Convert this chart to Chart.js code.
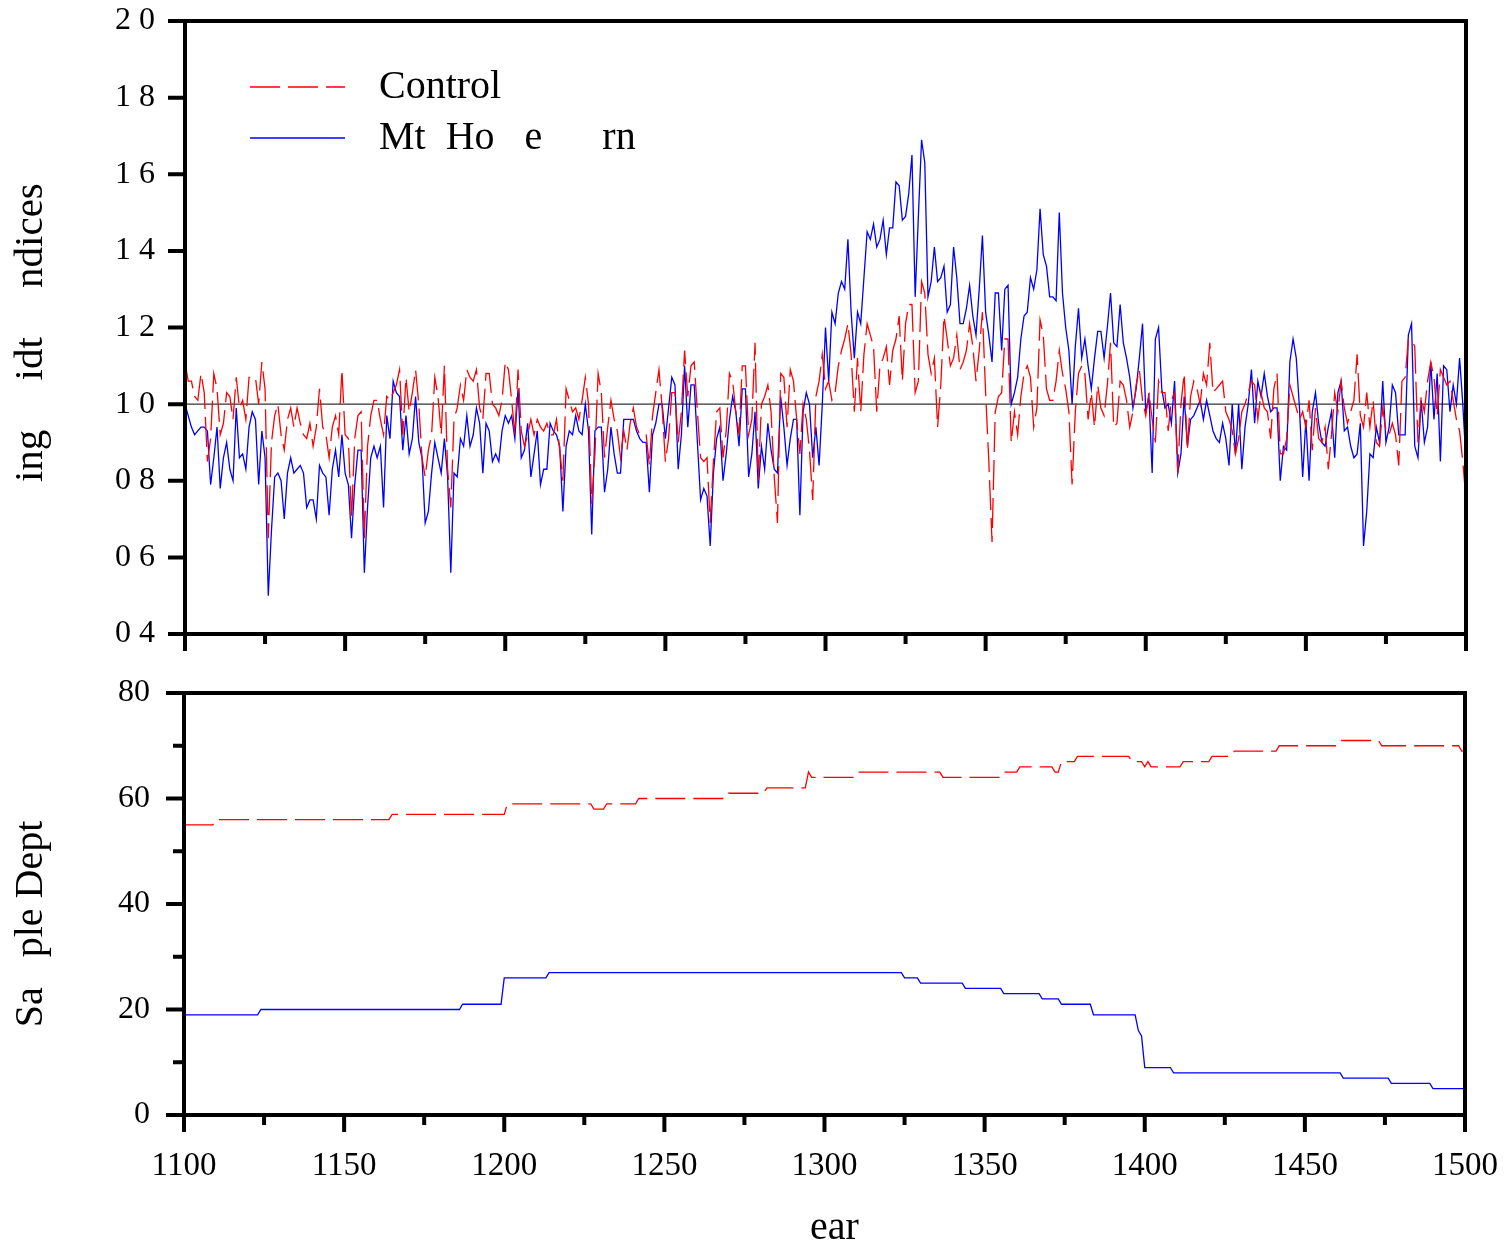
<!DOCTYPE html>
<html>
<head>
<meta charset="utf-8">
<script src="https://cdn.jsdelivr.net/npm/chart.js@4.4.1/dist/chart.umd.min.js"></script>
<style>
  html, body { margin: 0; padding: 0; background: #fff; }
  #wrap { position: relative; width: 1507px; height: 1248px; }
  #indexBox { position: absolute; left: 0; top: 0; width: 1507px; height: 660px; }
  #depthBox { position: absolute; left: 0; top: 660px; width: 1507px; height: 588px; }
</style>
</head>
<body>
<div id="wrap">
  <div id="indexBox"><canvas id="indexChart"></canvas></div>
  <div id="depthBox"><canvas id="depthChart"></canvas></div>
</div>
<script>
// Ring width indices (top) and sample depth (bottom), 1100-1500
const firstYear = 1100;
const lastYear = 1500;
const yearTicks = [1100, 1150, 1200, 1250, 1300, 1350, 1400, 1450, 1500];
const yearMinorTicks = [1125, 1175, 1225, 1275, 1325, 1375, 1425, 1475];
const indexTicks = [0.4, 0.6, 0.8, 1.0, 1.2, 1.4, 1.6, 1.8, 2.0];
const depthTicks = [0, 20, 40, 60, 80];
const depthMinorTicks = [10, 30, 50, 70];
const meanLevel = 1.0;

const seriesNames = ['Control', 'Mt  Ho   e      rn'];

// annual index values, one row per decade
const controlIndex = [
  1.11, 1.06, 1.06, 1.02, 1.01, 1.08, 1.03, 0.85, 0.91, 1.08,
  1.04, 0.92, 0.95, 1.03, 1.02, 0.96, 1.07, 0.99, 1.01, 0.96,
  1.07, 1.07, 1.07, 1.00, 1.11, 1.04, 0.65, 0.90, 0.97, 1.00,
  0.92, 0.88, 0.96, 0.99, 0.94, 0.99, 0.95, 0.92, 0.91, 0.95,
  0.89, 0.94, 1.04, 0.94, 0.92, 0.86, 0.94, 0.97, 0.92, 1.09,
  0.92, 0.91, 0.70, 0.91, 0.97, 0.98, 0.65, 0.89, 0.97, 1.01,
  1.01, 0.96, 0.92, 1.02, 1.01, 1.03, 1.05, 1.09, 0.92, 1.07,
  0.98, 1.03, 1.09, 1.00, 0.86, 0.81, 0.88, 0.92, 1.07, 1.02,
  0.92, 1.10, 0.83, 0.73, 0.96, 0.99, 1.05, 1.01, 1.09, 1.07,
  1.06, 1.09, 0.99, 0.96, 1.08, 1.08, 1.00, 0.99, 0.97, 1.01,
  1.11, 1.09, 1.01, 0.92, 1.09, 0.93, 0.89, 0.92, 0.96, 0.92,
  0.96, 0.94, 0.93, 0.95, 0.92, 0.92, 0.96, 0.88, 0.80, 1.04,
  1.01, 0.98, 0.99, 0.96, 1.01, 1.07, 1.00, 0.74, 0.87, 1.08,
  1.03, 0.86, 0.94, 1.01, 0.96, 0.93, 0.86, 0.93, 0.88, 0.95,
  0.99, 0.94, 0.92, 0.92, 0.92, 0.84, 0.97, 1.03, 1.09, 0.99,
  0.85, 0.91, 1.03, 1.03, 0.90, 0.98, 1.14, 1.02, 1.10, 1.11,
  0.98, 0.86, 0.85, 0.86, 0.69, 0.85, 0.98, 0.99, 0.86, 0.93,
  1.08, 1.06, 0.98, 0.92, 1.10, 1.10, 0.92, 0.96, 1.16, 0.80,
  1.00, 1.02, 1.05, 0.98, 0.81, 0.69, 1.08, 1.07, 0.94, 1.09,
  1.06, 0.96, 0.87, 1.00, 0.96, 0.88, 0.75, 1.02, 1.06, 1.13,
  1.04, 1.06, 1.01, 1.03, 1.10, 1.14, 1.17, 1.21, 1.13, 0.98,
  1.12, 0.98, 1.13, 1.21, 1.18, 1.15, 0.98, 1.10, 1.12, 1.15,
  1.05, 1.14, 1.17, 1.23, 1.06, 1.21, 1.26, 1.26, 1.03, 1.06,
  1.32, 1.29, 1.13, 1.08, 1.12, 0.94, 1.05, 1.23, 1.17, 1.10,
  1.12, 1.18, 1.09, 1.11, 1.14, 1.21, 1.15, 1.06, 1.14, 1.24,
  1.03, 0.85, 0.64, 0.98, 1.02, 1.03, 1.17, 1.17, 0.90, 0.98,
  0.92, 1.02, 1.08, 1.10, 1.07, 0.94, 0.99, 1.22, 1.18, 1.04,
  1.01, 1.01, 1.06, 1.14, 1.08, 1.04, 0.98, 0.79, 0.98, 1.08,
  1.10, 1.08, 0.96, 1.03, 0.94, 1.05, 0.99, 0.97, 1.05, 1.16,
  0.94, 0.95, 1.06, 1.05, 1.01, 0.94, 0.98, 1.05, 1.09, 1.01,
  0.97, 1.03, 0.96, 0.90, 1.06, 1.03, 1.03, 0.93, 1.01, 1.03,
  0.82, 1.00, 1.08, 0.88, 1.02, 1.06, 1.04, 1.00, 1.08, 1.05,
  1.16, 1.03, 1.04, 1.05, 1.06, 0.98, 0.96, 0.93, 0.87, 0.91,
  0.98, 1.00, 1.03, 1.06, 1.05, 0.96, 1.03, 0.99, 0.98, 0.91,
  1.04, 1.08, 0.87, 0.87, 0.91, 1.05, 1.02, 0.99, 0.96, 0.98,
  0.94, 1.01, 0.88, 0.99, 0.91, 0.90, 0.94, 0.83, 0.92, 1.03,
  0.98, 1.06, 0.99, 0.95, 0.98, 1.01, 1.13, 0.97, 0.94, 1.03,
  0.94, 1.01, 0.90, 0.89, 0.99, 0.93, 0.92, 0.95, 0.92, 0.84,
  1.06, 1.07, 1.17, 1.17, 1.15, 0.90, 1.02, 0.98, 1.06, 1.11,
  1.07, 0.97, 1.09, 1.07, 1.05, 1.06, 1.01, 0.96, 0.93, 0.85,
  0.75
];

const mtIndex = [
  1.00, 0.97, 0.94, 0.92, 0.93, 0.94, 0.94, 0.93, 0.79, 0.86,
  0.94, 0.78, 0.86, 0.90, 0.83, 0.80, 0.99, 0.86, 0.87, 0.83,
  0.94, 0.98, 0.96, 0.79, 0.93, 0.86, 0.50, 0.67, 0.81, 0.82,
  0.80, 0.70, 0.82, 0.86, 0.82, 0.83, 0.84, 0.82, 0.73, 0.75,
  0.75, 0.70, 0.84, 0.82, 0.81, 0.71, 0.83, 0.88, 0.81, 0.92,
  0.82, 0.79, 0.65, 0.79, 0.88, 0.88, 0.56, 0.73, 0.86, 0.89,
  0.86, 0.89, 0.73, 0.97, 0.91, 1.06, 1.03, 1.02, 0.88, 0.97,
  0.87, 0.91, 1.02, 0.90, 0.86, 0.69, 0.72, 0.82, 0.90, 0.86,
  0.82, 0.91, 0.81, 0.56, 0.82, 0.81, 0.91, 0.89, 0.97, 0.89,
  0.92, 0.99, 0.95, 0.82, 0.95, 0.93, 0.85, 0.87, 0.85, 0.93,
  0.97, 0.95, 0.97, 0.91, 1.04, 0.86, 0.88, 0.95, 0.81, 0.87,
  0.93, 0.79, 0.83, 0.83, 0.95, 0.93, 0.92, 0.89, 0.72, 0.89,
  0.93, 0.92, 0.97, 0.93, 0.92, 1.00, 0.93, 0.66, 0.93, 0.94,
  0.94, 0.77, 0.83, 0.94, 0.87, 0.82, 0.82, 0.96, 0.96, 0.96,
  0.96, 0.93, 0.91, 0.90, 0.90, 0.77, 0.92, 0.95, 1.00, 1.00,
  0.91, 0.99, 1.07, 1.05, 0.83, 0.92, 1.10, 0.94, 1.05, 1.05,
  0.90, 0.75, 0.78, 0.76, 0.63, 0.82, 0.91, 0.94, 0.80, 0.87,
  0.96, 1.02, 0.98, 0.89, 1.04, 1.04, 0.81, 0.87, 0.98, 0.78,
  0.89, 0.83, 0.95, 0.88, 0.83, 0.82, 1.02, 0.94, 0.84, 0.91,
  0.96, 0.96, 0.71, 0.98, 1.03, 1.00, 0.86, 0.94, 0.84, 1.00,
  1.20, 1.06, 1.24, 1.21, 1.29, 1.32, 1.30, 1.43, 1.24, 1.12,
  1.24, 1.21, 1.33, 1.45, 1.43, 1.47, 1.41, 1.43, 1.48, 1.39,
  1.46, 1.46, 1.58, 1.57, 1.48, 1.49, 1.55, 1.65, 1.28, 1.49,
  1.69, 1.63, 1.28, 1.32, 1.41, 1.32, 1.33, 1.36, 1.24, 1.26,
  1.41, 1.33, 1.21, 1.21, 1.25, 1.31, 1.23, 1.18, 1.30, 1.44,
  1.24, 1.18, 1.11, 1.29, 1.29, 1.14, 1.30, 1.31, 1.00, 1.03,
  1.07, 1.17, 1.23, 1.24, 1.33, 1.30, 1.35, 1.51, 1.39, 1.36,
  1.28, 1.28, 1.27, 1.50, 1.29, 1.20, 1.14, 1.00, 1.15, 1.25,
  1.12, 1.17, 1.10, 1.04, 1.12, 1.19, 1.19, 1.12, 1.20, 1.29,
  1.16, 1.15, 1.26, 1.16, 1.12, 1.07, 0.99, 1.04, 1.12, 1.21,
  0.98, 1.02, 0.82, 1.17, 1.20, 1.04, 0.99, 1.00, 0.95, 1.06,
  0.82, 0.87, 1.02, 0.89, 0.96, 0.97, 0.99, 1.01, 0.96, 1.01,
  0.97, 0.93, 0.91, 0.90, 0.95, 0.91, 0.84, 1.00, 0.87, 1.00,
  0.83, 0.94, 1.00, 1.09, 0.95, 1.06, 1.02, 1.08, 1.02, 0.98,
  0.99, 0.99, 0.80, 0.89, 0.88, 1.11, 1.17, 1.12, 0.99, 0.81,
  0.96, 0.80, 0.98, 1.03, 0.95, 0.90, 0.89, 0.94, 0.98, 0.86,
  1.03, 1.06, 0.93, 0.94, 0.89, 0.86, 0.87, 0.95, 0.63, 0.72,
  0.87, 0.86, 0.94, 0.90, 1.06, 0.90, 0.94, 1.05, 1.03, 0.92,
  0.92, 0.92, 1.18, 1.21, 0.89, 0.86, 1.01, 0.90, 0.94, 1.11,
  0.96, 1.08, 0.85, 1.10, 1.09, 0.98, 1.05, 1.00, 1.12, 1.00,
  0.85
];

// sample depth as [first year, number of samples] runs
const controlDepthRuns = [
  [1100, 55], [1110, 56], [1165, 57], [1201, 59], [1228, 58], [1232, 59],
  [1242, 60], [1270, 61], [1282, 62], [1295, 65], [1296, 64], [1310, 65],
  [1337, 64], [1356, 65], [1361, 66], [1372, 65], [1374, 67], [1379, 68],
  [1396, 67], [1400, 66], [1401, 67], [1402, 66], [1412, 67], [1421, 68],
  [1428, 69], [1442, 70], [1461, 71], [1474, 70], [1499, 69]
];
const mtDepthRuns = [
  [1100, 19], [1124, 20], [1187, 21], [1200, 26], [1214, 27], [1325, 26],
  [1330, 25], [1344, 24], [1356, 23], [1368, 22], [1374, 21], [1384, 19],
  [1398, 16], [1399, 15], [1400, 9], [1409, 8], [1462, 7], [1477, 6], [1490, 5]
];

const years = Array.from({ length: lastYear - firstYear + 1 }, (_, i) => firstYear + i);

function toPoints(vals) {
  return vals.map((v, i) => ({ x: years[i], y: v }));
}

function expandRuns(runs) {
  return years.map(yr => {
    let v = runs[0][1];
    for (const [start, n] of runs) if (yr >= start) v = n;
    return v;
  });
}

Chart.defaults.font.family = '"Liberation Serif", "Times New Roman", serif';
Chart.defaults.color = '#000';

const RED = '#ff0000';
const BLUE = '#0000ff';
const DASH = [30, 8];

// keep label overhang from shrinking the plot area
function noOverhang(s) {
  s.paddingTop = 0;
  s.paddingBottom = 0;
  s.paddingLeft = 0;
  s.paddingRight = 0;
}

// box round the plot area plus outward tick marks
const framePlugin = {
  id: 'frame',
  afterDraw(chart, args, o) {
    const { ctx, chartArea: a, scales } = chart;
    ctx.save();
    ctx.strokeStyle = '#000';
    ctx.lineWidth = o.width;
    ctx.strokeRect(a.left, a.top, a.right - a.left, a.bottom - a.top);
    ctx.beginPath();
    const xTick = (vals, len) => vals.forEach(v => {
      const px = scales.x.getPixelForValue(v);
      ctx.moveTo(px, a.bottom);
      ctx.lineTo(px, a.bottom + len);
    });
    const yTick = (vals, len) => vals.forEach(v => {
      const py = scales.y.getPixelForValue(v);
      ctx.moveTo(a.left, py);
      ctx.lineTo(a.left - len, py);
    });
    xTick(o.xMajor, o.xMajorLen);
    xTick(o.xMinor, o.xMinorLen);
    yTick(o.yMajor, o.yMajorLen);
    yTick(o.yMinor, o.yMinorLen);
    ctx.stroke();
    ctx.restore();
  }
};

// legend drawn inside the plot, top left
const keyPlugin = {
  id: 'key',
  afterDraw(chart, args, o) {
    if (!o.display) return;
    const ctx = chart.ctx;
    chart.data.datasets.filter(d => d.inKey).forEach((ds, i) => {
      const y = o.y + i * o.gap;
      ctx.save();
      ctx.strokeStyle = ds.borderColor;
      ctx.lineWidth = ds.borderWidth;
      ctx.setLineDash(ds.borderDash || []);
      ctx.beginPath();
      ctx.moveTo(o.x, y);
      ctx.lineTo(o.x + o.len, y);
      ctx.stroke();
      ctx.setLineDash([]);
      ctx.fillStyle = '#000';
      ctx.font = o.font;
      ctx.textBaseline = 'middle';
      ctx.fillText(ds.label, o.textX, y);
      ctx.restore();
    });
  }
};

const tickFont = { size: 32 };
const titleFont = { size: 40, lineHeight: 1 };

const indexChart = new Chart(document.getElementById('indexChart'), {
  type: 'line',
  data: {
    datasets: [
      {
        label: 'mean',
        data: [{ x: firstYear, y: meanLevel }, { x: lastYear, y: meanLevel }],
        borderColor: '#333333',
        borderWidth: 1.3,
        pointRadius: 0,
        order: 3
      },
      {
        label: seriesNames[0],
        data: toPoints(controlIndex),
        borderColor: RED,
        borderWidth: 1.3,
        borderDash: DASH,
        pointRadius: 0,
        inKey: true,
        order: 1
      },
      {
        label: seriesNames[1],
        data: toPoints(mtIndex),
        borderColor: BLUE,
        borderWidth: 1.3,
        pointRadius: 0,
        inKey: true,
        order: 2
      }
    ]
  },
  options: {
    responsive: true,
    maintainAspectRatio: false,
    animation: false,
    layout: { padding: { top: 21, right: 41, left: 0, bottom: 0 } },
    plugins: {
      legend: { display: false },
      tooltip: { enabled: false },
      frame: {
        width: 4,
        xMajor: yearTicks, xMajorLen: 17, xMinor: yearMinorTicks, xMinorLen: 10,
        yMajor: indexTicks, yMajorLen: 17, yMinor: [], yMinorLen: 0
      },
      key: {
        display: true, x: 250, y: 87, gap: 51, len: 95, textX: 379,
        font: '40px "Liberation Serif", serif'
      }
    },
    scales: {
      x: {
        type: 'linear',
        min: firstYear,
        max: lastYear,
        afterBuildTicks: s => { s.ticks = yearTicks.map(v => ({ value: v })); },
        ticks: { display: false },
        grid: { display: false, drawTicks: false },
        border: { display: false },
        afterFit: s => { noOverhang(s); s.height = 26; }
      },
      y: {
        min: 0.4,
        max: 2.0,
        afterBuildTicks: s => { s.ticks = indexTicks.map(v => ({ value: v })); },
        ticks: {
          font: tickFont,
          padding: 30,
          callback: v => Number(v).toFixed(1).replace('.', ' ')
        },
        grid: { display: false, drawTicks: false },
        border: { display: false },
        title: {
          display: true,
          text: 'ing    \u2009idt    \u2009ndices ',
          font: { size: 41, lineHeight: 1 },
          padding: { top: 11, bottom: 0 }
        },
        afterFit: s => { noOverhang(s); s.width = 185; }
      }
    }
  },
  plugins: [framePlugin, keyPlugin]
});

const depthChart = new Chart(document.getElementById('depthChart'), {
  type: 'line',
  data: {
    datasets: [
      {
        label: seriesNames[0],
        data: toPoints(expandRuns(controlDepthRuns)),
        borderColor: RED,
        borderWidth: 1.3,
        borderDash: DASH,
        pointRadius: 0,
        order: 1
      },
      {
        label: seriesNames[1],
        data: toPoints(expandRuns(mtDepthRuns)),
        borderColor: BLUE,
        borderWidth: 1.3,
        pointRadius: 0,
        order: 2
      }
    ]
  },
  options: {
    responsive: true,
    maintainAspectRatio: false,
    animation: false,
    layout: { padding: { top: 33, right: 42, left: 0, bottom: 0 } },
    plugins: {
      legend: { display: false },
      tooltip: { enabled: false },
      frame: {
        width: 4,
        xMajor: yearTicks, xMajorLen: 17, xMinor: yearMinorTicks, xMinorLen: 10,
        yMajor: depthTicks, yMajorLen: 18, yMinor: depthMinorTicks, yMinorLen: 11
      },
      key: { display: false }
    },
    scales: {
      x: {
        type: 'linear',
        min: firstYear,
        max: lastYear,
        afterBuildTicks: s => { s.ticks = yearTicks.map(v => ({ value: v })); },
        ticks: { font: { size: 33 }, padding: 32, callback: v => String(v) },
        grid: { display: false, drawTicks: false },
        border: { display: false },
        title: {
          display: true,
          text: '  ear',
          font: titleFont,
          padding: { top: 0, bottom: 0 }
        },
        afterFit: s => { noOverhang(s); s.height = 133; }
      },
      y: {
        min: 0,
        max: 80,
        afterBuildTicks: s => { s.ticks = depthTicks.map(v => ({ value: v })); },
        ticks: { font: tickFont, padding: 34 },
        grid: { display: false, drawTicks: false },
        border: { display: false },
        title: {
          display: true,
          text: 'Sa   ple Dept    ',
          font: titleFont,
          padding: { top: 11, bottom: 0 }
        },
        afterFit: s => { noOverhang(s); s.width = 184; }
      }
    }
  },
  plugins: [framePlugin, keyPlugin]
});
</script>
</body>
</html>
